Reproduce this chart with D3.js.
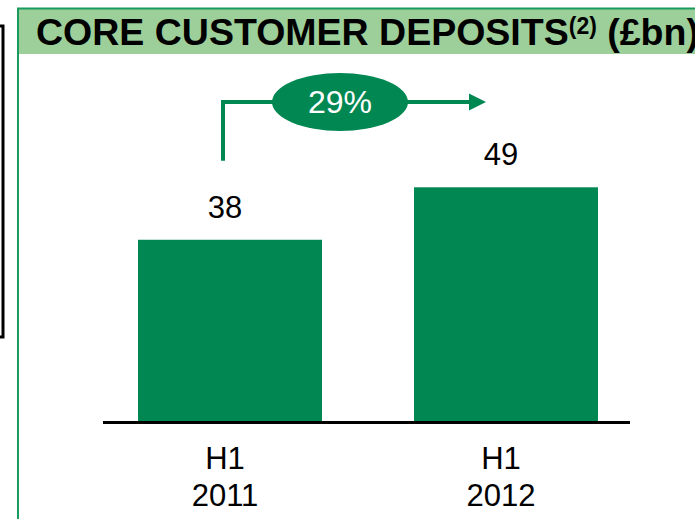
<!DOCTYPE html>
<html>
<head>
<meta charset="utf-8">
<script src="https://cdn.jsdelivr.net/npm/d3@7"></script>
<style>
  body { margin: 0; background: #fff; }
  svg { display: block; font-family: "Liberation Sans", Arial, sans-serif; }
</style>
</head>
<body>
<div id="chart"></div>
<script>
// data
const periods = ["H1", "H1"];
const years = ["2011", "2012"];
const deposits = [38, 49];
const growthLabel = "29%";

const width = 695;
const height = 519;

const barGreen = "#008752";
const lineGreen = "#1a9a5c";
const headGreen = "#9dcf9b";

const svg = d3.select("#chart")
    .append("svg")
    .attr("width", width)
    .attr("height", height);

// neighbouring panel edge on the left
svg.append("path")
    .attr("d", "M0,26 H3 V337 H0")
    .attr("fill", "none")
    .attr("stroke", "#000")
    .attr("stroke-width", 3);

// panel frame + header band
svg.append("rect")
    .attr("x", 18).attr("y", 9)
    .attr("width", width).attr("height", 45)
    .attr("fill", headGreen);
svg.append("path")
    .attr("d", `M18,${height} V8.5 H${width}`)
    .attr("fill", "none")
    .attr("stroke", lineGreen)
    .attr("stroke-width", 2);

const title = svg.append("text")
    .attr("x", 36).attr("y", 45)
    .attr("font-weight", "bold")
    .attr("font-size", 37.5)
    .attr("fill", "#000");
title.append("tspan").text("CORE CUSTOMER DEPOSITS");
title.append("tspan").attr("font-size", 23).attr("dy", -11).text("(2)");
title.append("tspan").attr("dy", 11).text(" (£bn)");

// scales
const keys = years.map((y, i) => periods[i] + " " + y);
const x = d3.scaleBand()
    .domain(keys)
    .range([106, 630])
    .paddingInner(1 / 3)
    .paddingOuter(0.116);

const y = d3.scaleLinear()
    .domain([0, 49])
    .range([421, 187.3]);

// bars
svg.append("g")
    .selectAll("rect")
    .data(deposits)
    .join("rect")
    .attr("x", (d, i) => x(keys[i]))
    .attr("y", d => y(d))
    .attr("width", x.bandwidth())
    .attr("height", d => y(0) - y(d))
    .attr("fill", barGreen);

// baseline
svg.append("line")
    .attr("x1", x.range()[0] - 3).attr("x2", x.range()[1])
    .attr("y1", y(0) + 1.5).attr("y2", y(0) + 1.5)
    .attr("stroke", "#000")
    .attr("stroke-width", 3);

const cx = (i) => x(keys[i]) + x.bandwidth() / 2 - 5;

// value labels
svg.append("g")
    .selectAll("text")
    .data(deposits)
    .join("text")
    .attr("x", (d, i) => cx(i))
    .attr("y", d => y(d) - 22)
    .attr("text-anchor", "middle")
    .attr("font-size", 31)
    .attr("fill", "#000")
    .text(d => d);

// category labels
const cat = svg.append("g")
    .selectAll("text")
    .data(keys)
    .join("text")
    .attr("x", (d, i) => cx(i))
    .attr("text-anchor", "middle")
    .attr("font-size", 31)
    .attr("fill", "#000");
cat.append("tspan").attr("y", 469).text((d, i) => periods[i]);
cat.append("tspan").attr("x", (d, i) => cx(i)).attr("y", 506).text((d, i) => years[i]);

// growth arrow
const arrowY = 102;
const ax0 = cx(0) - 2;
const ax1 = cx(1) - 15;
const defs = svg.append("defs");
defs.append("marker")
    .attr("id", "head")
    .attr("viewBox", "0 -5 10 10")
    .attr("refX", 0).attr("refY", 0)
    .attr("markerUnits", "userSpaceOnUse")
    .attr("markerWidth", 17).attr("markerHeight", 19)
    .attr("orient", "auto")
    .append("path")
    .attr("d", "M0,-5L10,0L0,5Z")
    .attr("fill", barGreen);

svg.append("path")
    .attr("d", `M${ax0},${y(deposits[0]) - 79} V${arrowY} H${ax1 - 17}`)
    .attr("fill", "none")
    .attr("stroke", barGreen)
    .attr("stroke-width", 4)
    .attr("marker-end", "url(#head)");

svg.append("ellipse")
    .attr("cx", 340).attr("cy", arrowY)
    .attr("rx", 68).attr("ry", 29)
    .attr("fill", barGreen);

svg.append("text")
    .attr("x", 340).attr("y", arrowY + 11)
    .attr("text-anchor", "middle")
    .attr("font-size", 32)
    .attr("fill", "#fff")
    .text(growthLabel);
</script>
</body>
</html>
